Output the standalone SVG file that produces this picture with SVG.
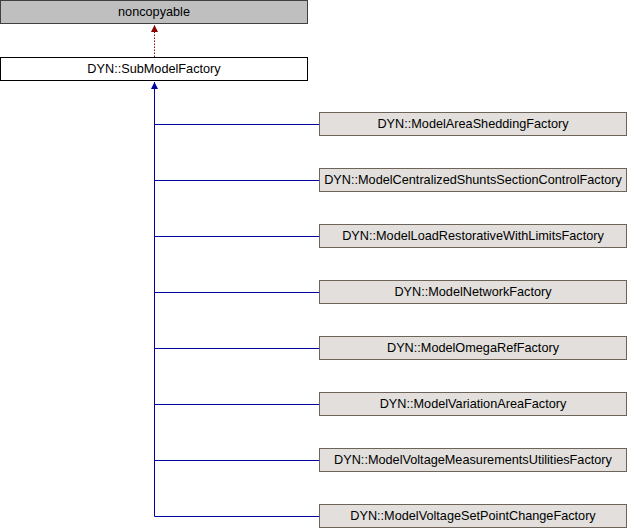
<svg xmlns="http://www.w3.org/2000/svg" width="628" height="528" viewBox="0 0 628 528">
<style>
text{font-family:"Liberation Sans",Arial,sans-serif;font-size:12.7px;text-anchor:middle;fill:#000}
.c rect{fill:#e2dfdc;stroke:#6f6459;stroke-width:1}
.e{fill:none;stroke:#0000a0;stroke-width:1}
</style>
<defs>
<marker id="ab" markerWidth="8" markerHeight="8" refX="7" refY="4" orient="auto" markerUnits="userSpaceOnUse"><path d="M0,0.5 L7,4 L0,7.5 Z" fill="#0000a0"/></marker>
<marker id="ar" markerWidth="8" markerHeight="8" refX="7" refY="4" orient="auto" markerUnits="userSpaceOnUse"><path d="M0,0.5 L7,4 L0,7.5 Z" fill="#8b0000"/></marker>
</defs>
<g id="noncopyable"><rect x="0.5" y="0.5" width="307" height="23" fill="#bfbfbf" stroke="#404040"/><text x="154" y="16">noncopyable</text></g>
<g id="SubModelFactory"><rect x="0.5" y="57.5" width="307" height="23" fill="#fff" stroke="#000"/><text x="154" y="73">DYN::SubModelFactory</text></g>
<g id="connectors">
<line x1="154.5" y1="57" x2="154.5" y2="25" stroke="#8b0000" stroke-dasharray="1.5,1.5" marker-end="url(#ar)"/>
<path class="e" d="M154.5,516.5 V82" marker-end="url(#ab)"/>
<path class="e" d="M154.5,124.5 H319 M154.5,180.5 H319 M154.5,236.5 H319 M154.5,292.5 H319 M154.5,348.5 H319 M154.5,404.5 H319 M154.5,460.5 H319 M154.5,516.5 H319"/>
</g>
<g class="c">
<g id="n1"><rect x="319.5" y="112.5" width="307" height="23"/><text x="473" y="128">DYN::ModelAreaSheddingFactory</text></g>
<g id="n2"><rect x="319.5" y="168.5" width="307" height="23"/><text x="473" y="184">DYN::ModelCentralizedShuntsSectionControlFactory</text></g>
<g id="n3"><rect x="319.5" y="224.5" width="307" height="23"/><text x="473" y="240">DYN::ModelLoadRestorativeWithLimitsFactory</text></g>
<g id="n4"><rect x="319.5" y="280.5" width="307" height="23"/><text x="473" y="296">DYN::ModelNetworkFactory</text></g>
<g id="n5"><rect x="319.5" y="336.5" width="307" height="23"/><text x="473" y="352">DYN::ModelOmegaRefFactory</text></g>
<g id="n6"><rect x="319.5" y="392.5" width="307" height="23"/><text x="473" y="408">DYN::ModelVariationAreaFactory</text></g>
<g id="n7"><rect x="319.5" y="448.5" width="307" height="23"/><text x="473" y="464">DYN::ModelVoltageMeasurementsUtilitiesFactory</text></g>
<g id="n8"><rect x="319.5" y="504.5" width="307" height="23"/><text x="473" y="520">DYN::ModelVoltageSetPointChangeFactory</text></g>
</g>
</svg>
